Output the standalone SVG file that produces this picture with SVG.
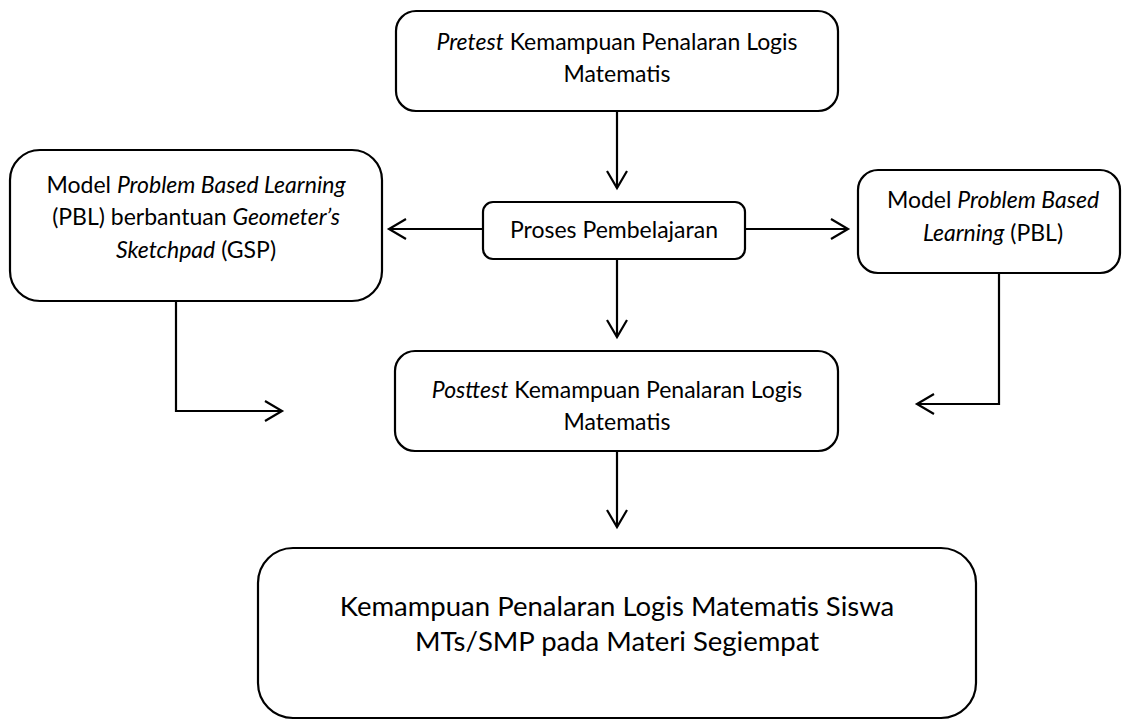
<svg xmlns="http://www.w3.org/2000/svg" width="1122" height="722" viewBox="0 0 1122 722">
<defs>
<marker id="arr" markerUnits="userSpaceOnUse" markerWidth="24" markerHeight="24" viewBox="0 0 24 24" refX="20" refY="12" orient="auto">
<path d="M3,2 L20,12 L3,22" fill="none" stroke="#000" stroke-width="2.2"/>
</marker>
<style>
.box{fill:#fff;stroke:#000;stroke-width:2.2}
.t{font-family:Lato,"Open Sans",sans-serif;font-size:23px;fill:#000;text-anchor:middle}
.big{font-size:27.5px}
.i{font-style:italic}
.c{fill:none;stroke:#000;stroke-width:2.2;marker-end:url(#arr)}
</style>
</defs>
<rect width="1122" height="722" fill="#fff"/>
<g id="connectors">
<path class="c" d="M617,112 V188"/>
<path class="c" d="M483,229 H389"/>
<path class="c" d="M745,229 H848"/>
<path class="c" d="M617,260 V337"/>
<path class="c" d="M176,302 V411 H282"/>
<path class="c" d="M999,274 V404 H917"/>
<path class="c" d="M617,452 V527"/>
</g>
<g id="pretest">
<rect class="box" x="396" y="11" width="442" height="100" rx="20"/>
<text class="t" x="617" y="50"><tspan class="i">Pretest</tspan> Kemampuan Penalaran Logis</text>
<text class="t" x="617" y="82">Matematis</text>
</g>
<g id="pbl-gsp">
<rect class="box" x="10" y="150" width="372" height="151" rx="30"/>
<text class="t" x="196" y="193">Model <tspan class="i">Problem Based Learning</tspan></text>
<text class="t" x="196" y="225">(PBL) berbantuan <tspan class="i">Geometer’s</tspan></text>
<text class="t" x="196" y="258"><tspan class="i">Sketchpad</tspan> (GSP)</text>
</g>
<g id="proses">
<rect class="box" x="483" y="202" width="262" height="57" rx="10"/>
<text class="t" x="614" y="238">Proses Pembelajaran</text>
</g>
<g id="pbl">
<rect class="box" x="858" y="170" width="262" height="103" rx="20"/>
<text class="t" x="993" y="208">Model <tspan class="i">Problem Based</tspan></text>
<text class="t" x="993" y="241"><tspan class="i">Learning</tspan> (PBL)</text>
</g>
<g id="posttest">
<rect class="box" x="395" y="351" width="443" height="100" rx="20"/>
<text class="t" x="617" y="398"><tspan class="i">Posttest</tspan> Kemampuan Penalaran Logis</text>
<text class="t" x="617" y="430">Matematis</text>
</g>
<g id="hasil">
<rect class="box" x="258" y="548" width="718" height="170" rx="35"/>
<text class="t big" x="617" y="616">Kemampuan Penalaran Logis Matematis Siswa</text>
<text class="t big" x="617" y="651">MTs/SMP pada Materi Segiempat</text>
</g>
</svg>
